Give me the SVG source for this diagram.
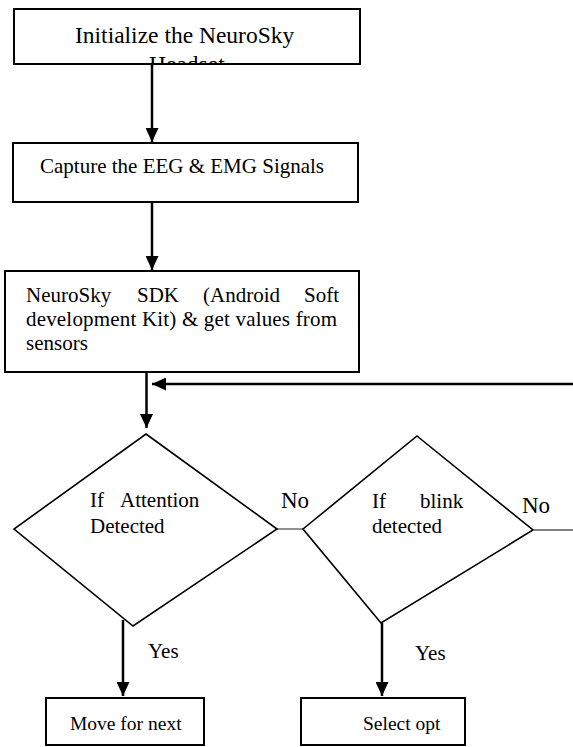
<svg xmlns="http://www.w3.org/2000/svg" width="573" height="747" viewBox="0 0 573 747">
<style>
.box{fill:#fff;stroke:#000;stroke-width:2}
.dia{fill:#fff;stroke:#000;stroke-width:1.6}
.t{font-family:'Liberation Serif',Tinos,'Times New Roman','DejaVu Serif','Noto Serif',serif;font-size:21px;fill:#000}
.big{font-size:23.5px}
.no{font-size:23px}
.sm{font-size:19.5px}
.arr{stroke:#000;stroke-width:2.5;fill:none}
.thin{stroke:#555;stroke-width:1.3;fill:none}
</style>
<defs>
<marker id="ah" viewBox="0 0 14 13" refX="14" refY="6.5" markerWidth="14" markerHeight="13" orient="auto" markerUnits="userSpaceOnUse">
<path d="M0,0 L14,6.5 L0,13 z" fill="#000"/>
</marker>
<clipPath id="c1"><rect x="15" y="10" width="344" height="53"/></clipPath>
</defs>
<rect width="573" height="747" fill="#fff"/>
<g id="connectors">
<line class="arr" x1="152" y1="65" x2="152" y2="142" marker-end="url(#ah)"/>
<line class="arr" x1="152" y1="202" x2="152" y2="270" marker-end="url(#ah)"/>
<line class="arr" x1="146.5" y1="372" x2="146.5" y2="428" marker-end="url(#ah)"/>
<line class="arr" x1="573" y1="384" x2="152" y2="384" marker-end="url(#ah)"/>
<line class="thin" x1="277" y1="529" x2="303" y2="529"/>
<line class="thin" x1="534" y1="530" x2="573" y2="530"/>
<line class="arr" x1="123" y1="620" x2="123" y2="696" marker-end="url(#ah)"/>
<line class="arr" x1="382" y1="623" x2="382" y2="696" marker-end="url(#ah)"/>
<text class="t no" x="281" y="508">No</text>
<text class="t no" x="522" y="513">No</text>
<text class="t" x="148" y="658">Yes</text>
<text class="t" x="415" y="660">Yes</text>
</g>
<g id="init">
<rect class="box" x="14" y="9" width="346" height="55"/>
<text class="t big" x="75" y="43">Initialize the NeuroSky</text>
<text class="t big" x="149" y="72" clip-path="url(#c1)">Headset</text>
</g>
<g id="capture">
<rect class="box" x="13" y="143" width="345" height="59"/>
<text class="t" x="40" y="173">Capture the EEG &amp; EMG Signals</text>
</g>
<g id="sdk">
<rect class="box" x="5" y="271" width="354" height="101"/>
<text class="t" y="302"><tspan x="26">NeuroSky</tspan><tspan x="137">SDK</tspan><tspan x="203">(Android</tspan><tspan x="304">Soft</tspan></text>
<text class="t" x="26" y="326" textLength="311" lengthAdjust="spacing">development Kit) &amp; get values from</text>
<text class="t" x="26" y="350">sensors</text>
</g>
<g id="attention">
<polygon class="dia" points="146,434 277,529 133,626 14,529"/>
<text class="t" y="507"><tspan x="90">If</tspan><tspan x="120">Attention</tspan></text>
<text class="t" x="90" y="533">Detected</text>
</g>
<g id="blink">
<polygon class="dia" points="417,436 533,530 381,623 303,529"/>
<text class="t" y="508"><tspan x="372">If</tspan><tspan x="420">blink</tspan></text>
<text class="t" x="372" y="533">detected</text>
</g>
<g id="move">
<rect class="box" x="46" y="698" width="158" height="47"/>
<text class="t sm" x="70" y="730">Move for next</text>
</g>
<g id="select">
<rect class="box" x="301" y="698" width="164" height="47"/>
<text class="t sm" x="363" y="730">Select opt</text>
</g>
</svg>
